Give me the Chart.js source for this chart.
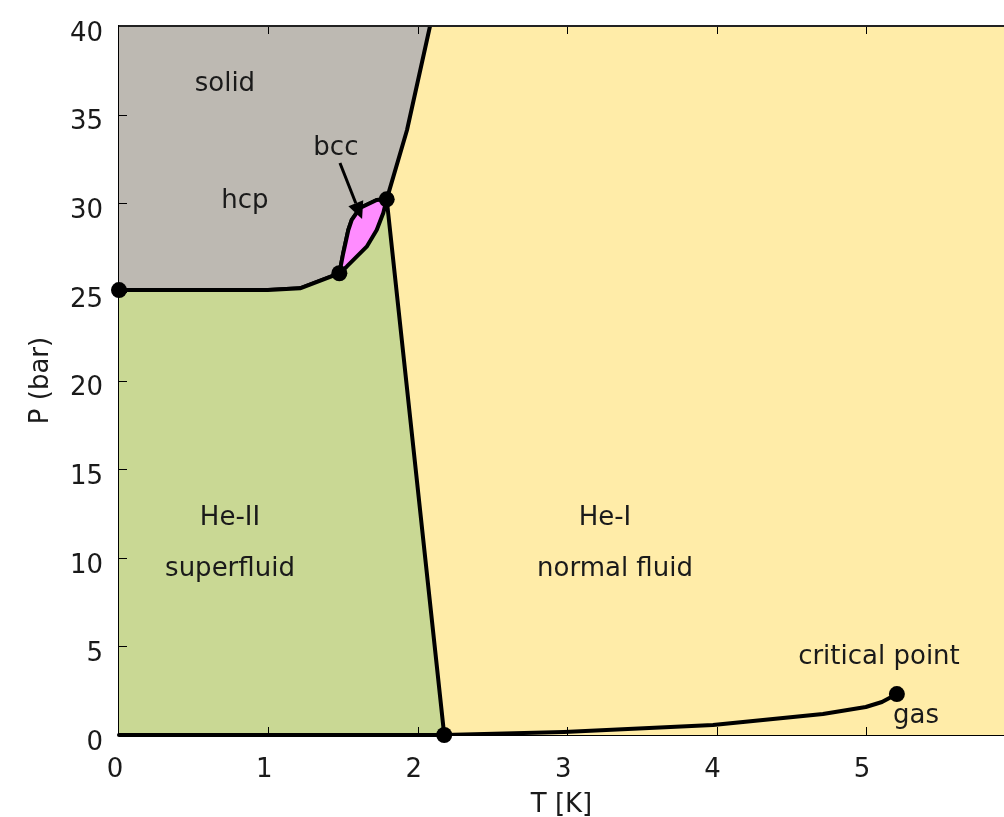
<!DOCTYPE html>
<html>
<head>
<meta charset="utf-8">
<script src="https://cdn.jsdelivr.net/npm/chart.js@4.4.0/dist/chart.umd.min.js"></script>
<style>
html,body{margin:0;padding:0;background:#fff;overflow:hidden;}
#wrap{width:1004px;height:817px;position:relative;}
</style>
</head>
<body>
<div id="wrap"><canvas id="phase"></canvas></div>
<script>
// He-4 phase diagram, T [K] against P (bar)
var meltLow = [[0,25.1],[0.997,25.1],[1.212,25.2],[1.475,26.05]];
var bccHcp = [[1.475,26.05],[1.501,27.18],[1.535,28.49],[1.558,29.06],[1.613,29.73],[1.725,30.18],[1.792,30.22]];
var bccHe2 = [[1.475,26.05],[1.524,26.42],[1.658,27.55],[1.725,28.49],[1.769,29.45],[1.792,30.22]];
var meltHigh = [[1.792,30.22],[1.928,34.13],[2.082,40]];
var lambdaLine = [[1.792,30.22],[2.177,0]];
var vapour = [[2.177,0],[2.979,0.17],[3.976,0.56],[4.712,1.18],[4.999,1.58],[5.107,1.86],[5.207,2.31]];
var floorLine = [[0,0],[2.177,0]];
var dots = [[0,25.1],[1.475,26.05],[1.792,30.22],[2.177,0],[5.207,2.31]];

var xTicks = [0,1,2,3,4,5];
var yTicks = [0,5,10,15,20,25,30,35,40];

var regionText = ['solid','hcp','bcc','He-II','superfluid','He-I','normal fluid','critical point','gas'];
var regionX = [0.709,0.843,1.452,0.743,0.743,3.253,3.32,5.087,5.335];
var regionY = [36.7,30.13,33.12,12.24,9.37,12.24,9.37,4.40,1.07];
var arrowFrom = [1.479,32.27];
var arrowTo = [1.627,29.11];

var FONT = '"DejaVu Sans", sans-serif';

function xy(arr){ return arr.map(function(p){ return {x:p[0], y:p[1]}; }); }

var solidPath = meltLow.concat(bccHcp.slice(1), meltHigh.slice(1));
var superPath = meltLow.concat(bccHe2.slice(1), lambdaLine.slice(1));

var backdrop = {
  id: 'backdrop',
  beforeDatasetsDraw: function(chart){
    var a = chart.chartArea, c = chart.ctx;
    c.save();
    c.fillStyle = '#FFECA8';
    c.fillRect(a.left, a.top, a.right - a.left, a.bottom - a.top);
    c.restore();
  }
};

var frame = {
  id: 'frame',
  afterDatasetsDraw: function(chart){
    var a = chart.chartArea, c = chart.ctx;
    var xs = chart.scales.x, ys = chart.scales.y;
    c.save();
    c.strokeStyle = '#000';
    c.lineWidth = 1;
    c.beginPath();
    xTicks.forEach(function(v){
      var px = Math.round(xs.getPixelForValue(v)) + 0.5;
      if (v === 0) return;
      c.moveTo(px, a.bottom); c.lineTo(px, a.bottom - 8);
      c.moveTo(px, a.top); c.lineTo(px, a.top + 8);
    });
    yTicks.forEach(function(v){
      var py = Math.round(ys.getPixelForValue(v)) + 0.5;
      c.moveTo(a.left, py); c.lineTo(a.left + 8, py);
    });
    c.stroke();
    c.lineWidth = 2;
    c.strokeStyle = '#222';
    c.beginPath();
    c.moveTo(a.left, a.top); c.lineTo(a.right, a.top);
    c.stroke();

    // arrow pointing at the bcc pocket
    var x0 = xs.getPixelForValue(arrowFrom[0]), y0 = ys.getPixelForValue(arrowFrom[1]);
    var x1 = xs.getPixelForValue(arrowTo[0]), y1 = ys.getPixelForValue(arrowTo[1]);
    var ang = Math.atan2(y1 - y0, x1 - x0);
    var hl = 17, hw = 8;
    var bx = x1 - hl * Math.cos(ang), by = y1 - hl * Math.sin(ang);
    c.strokeStyle = '#000';
    c.lineWidth = 3;
    c.beginPath(); c.moveTo(x0, y0); c.lineTo(bx, by); c.stroke();
    c.fillStyle = '#000';
    c.beginPath();
    c.moveTo(x1, y1);
    c.lineTo(bx + hw * Math.sin(ang), by - hw * Math.cos(ang));
    c.lineTo(bx - hw * Math.sin(ang), by + hw * Math.cos(ang));
    c.closePath(); c.fill();

    c.fillStyle = '#1a1a1a';
    c.font = '26px ' + FONT;
    c.textAlign = 'center';
    c.textBaseline = 'middle';
    regionText.forEach(function(t, i){
      c.fillText(t, xs.getPixelForValue(regionX[i]), ys.getPixelForValue(regionY[i]));
    });
    c.restore();
  }
};

var lineBase = {pointRadius: 0, borderColor: '#000', borderWidth: 4, tension: 0, borderJoinStyle: 'round', borderCapStyle: 'round'};

new Chart(document.getElementById('phase'), {
  type: 'line',
  data: {
    datasets: [
      Object.assign({label: 'solid', data: xy(solidPath), fill: 'end', backgroundColor: '#BDB9B2', order: 6}, lineBase),
      Object.assign({label: 'bcc', data: xy(bccHcp), fill: 'origin', backgroundColor: '#FF8CFF', order: 5}, lineBase),
      Object.assign({label: 'He-II', data: xy(superPath), fill: 'origin', backgroundColor: '#C9D894', order: 4}, lineBase),
      Object.assign({label: 'vapour', data: xy(vapour), fill: false, order: 3}, lineBase),
      Object.assign({label: 'floor', data: xy(floorLine), fill: false, order: 2, clip: false}, lineBase),
      {label: 'points', data: xy(dots), showLine: false, pointRadius: 8, pointHoverRadius: 8,
       pointBackgroundColor: '#000', pointBorderColor: '#000', pointBorderWidth: 0, order: 1, clip: false}
    ]
  },
  options: {
    responsive: true,
    maintainAspectRatio: false,
    animation: false,
    events: [],
    layout: {autoPadding: false, padding: {top: 26, right: 0, left: 0, bottom: 0}},
    plugins: {legend: {display: false}, tooltip: {enabled: false}},
    scales: {
      x: {
        type: 'linear', min: 0, max: 5.924,
        afterFit: function(s){ s.height = 82; s.paddingLeft = 0; s.paddingRight = 0; },
        afterBuildTicks: function(s){ s.ticks = xTicks.map(function(v){ return {value: v}; }); },
        grid: {display: false, drawTicks: false},
        border: {display: true, color: '#000', width: 1},
        ticks: {color: '#1a1a1a', font: {family: FONT, size: 26}, padding: 20, labelOffset: -4, maxRotation: 0, autoSkip: false},
        title: {display: true, text: 'T [K]', color: '#1a1a1a', font: {family: FONT, size: 26}, padding: {top: 0, bottom: -4}}
      },
      y: {
        type: 'linear', min: 0, max: 40,
        afterFit: function(s){ s.width = 119; s.paddingTop = 0; s.paddingBottom = 0; },
        afterBuildTicks: function(s){ s.ticks = yTicks.map(function(v){ return {value: v}; }); },
        grid: {display: false, drawTicks: false},
        border: {display: true, color: '#000', width: 1.5},
        ticks: {color: '#1a1a1a', font: {family: FONT, size: 26}, padding: 16, labelOffset: 8, autoSkip: false},
        title: {display: true, text: 'P (bar)', color: '#1a1a1a', font: {family: FONT, size: 26}, padding: {top: 26, bottom: 0}}
      }
    }
  },
  plugins: [backdrop, frame]
});
</script>
</body>
</html>
